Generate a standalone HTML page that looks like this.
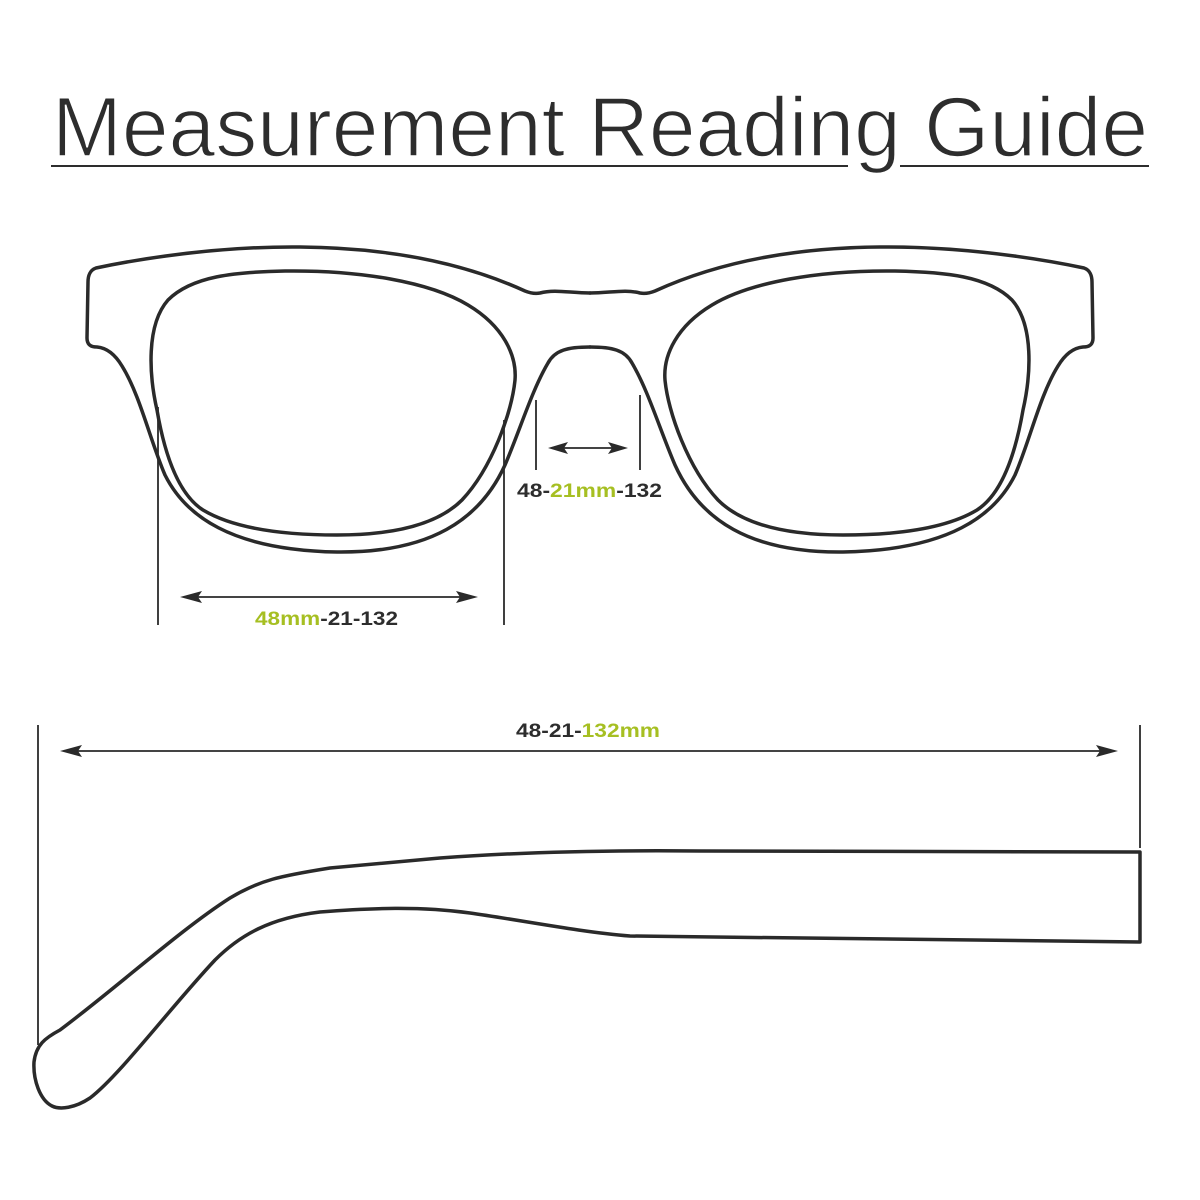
<!DOCTYPE html>
<html><head><meta charset="utf-8"><style>
html,body{margin:0;padding:0;background:#fff;}
svg{display:block;}
</style></head><body>
<svg width="1200" height="1200" viewBox="0 0 1200 1200" xmlns="http://www.w3.org/2000/svg">
<rect width="1200" height="1200" fill="#fff"/>
<!-- Title -->
<text x="52" y="156" font-family="Liberation Sans, sans-serif" font-size="84" fill="#2d2d2d" stroke="#fff" stroke-width="1.6" textLength="1096" lengthAdjust="spacingAndGlyphs">Measurement Reading Guide</text>
<line x1="51" y1="166" x2="848" y2="166" stroke="#2d2d2d" stroke-width="2"/>
<line x1="900" y1="166" x2="1149" y2="166" stroke="#2d2d2d" stroke-width="2"/>

<g fill="none" stroke="#2a2a2a" stroke-width="3.5" stroke-linejoin="round" stroke-linecap="round">
  <g id="half">
    <path d="M590,293 C570,293 555,289 540,293 C535,294 530,293 525,291 C490,275 420,248 300,247 C200,246 110,265 96,268 C90,270 88,276 88,282 L87,338 C87,344 90,347 97,347 C108,348 116,356 122,366 C140,395 150,440 165,475 C185,515 230,550 337,552 C430,553 480,520 505,465 C520,430 532,390 548,363 C555,350 568,347 590,347"/>
    <path d="M157,410 C149,375 146,325 168,300 C192,276 235,272 285,271 C360,270 430,282 468,305 C503,326 517,355 515,380 C512,412 492,468 462,500 C440,522 400,535 337,535 C270,535 228,525 203,510 C175,492 163,445 157,410 Z"/>
  </g>
  <use href="#half" transform="translate(1180,0) scale(-1,1)"/>
  <path d="M1140,852 L1140,942 L630,936 C580,932 520,920 470,913 C420,906 370,908 320,912 C270,918 240,935 215,960 C170,1008 120,1075 90,1098 C75,1108 60,1110 52,1106 C40,1100 33,1080 34,1062 C36,1045 45,1038 60,1030 C120,985 180,930 230,898 C260,880 280,876 330,868 L440,858 C520,852 600,850 700,851 Z"/>
</g>

<g stroke="#2a2a2a" stroke-width="1.8" fill="none">
  <line x1="158" y1="407" x2="158" y2="625"/>
  <line x1="504" y1="420" x2="504" y2="625"/>
  <line x1="536" y1="400" x2="536" y2="470"/>
  <line x1="640" y1="395" x2="640" y2="470"/>
  <line x1="38" y1="725" x2="38" y2="1045"/>
  <line x1="1140" y1="725" x2="1140" y2="848"/>
  <line x1="192" y1="597" x2="466" y2="597"/>
  <line x1="560" y1="448" x2="616" y2="448"/>
  <line x1="72" y1="751" x2="1106" y2="751"/>
</g>
<g fill="#2a2a2a">
  <polygon points="180,597 202,591 198,597 202,603"/>
  <polygon points="478,597 456,591 460,597 456,603"/>
  <polygon points="548,448 568,442 564,448 568,454"/>
  <polygon points="628,448 608,442 612,448 608,454"/>
  <polygon points="60,751 82,745 78,751 82,757"/>
  <polygon points="1118,751 1096,745 1100,751 1096,757"/>
</g>

<g font-family="Liberation Sans, sans-serif" font-size="19" font-weight="bold" fill="#2d2d2d">
  <text x="255" y="625" textLength="143" lengthAdjust="spacingAndGlyphs"><tspan fill="#a6bf22">48mm</tspan>-21-132</text>
  <text x="517" y="497" textLength="145" lengthAdjust="spacingAndGlyphs">48-<tspan fill="#a6bf22">21mm</tspan>-132</text>
  <text x="516" y="737" textLength="144" lengthAdjust="spacingAndGlyphs">48-21-<tspan fill="#a6bf22">132mm</tspan></text>
</g>
</svg>
</body></html>
